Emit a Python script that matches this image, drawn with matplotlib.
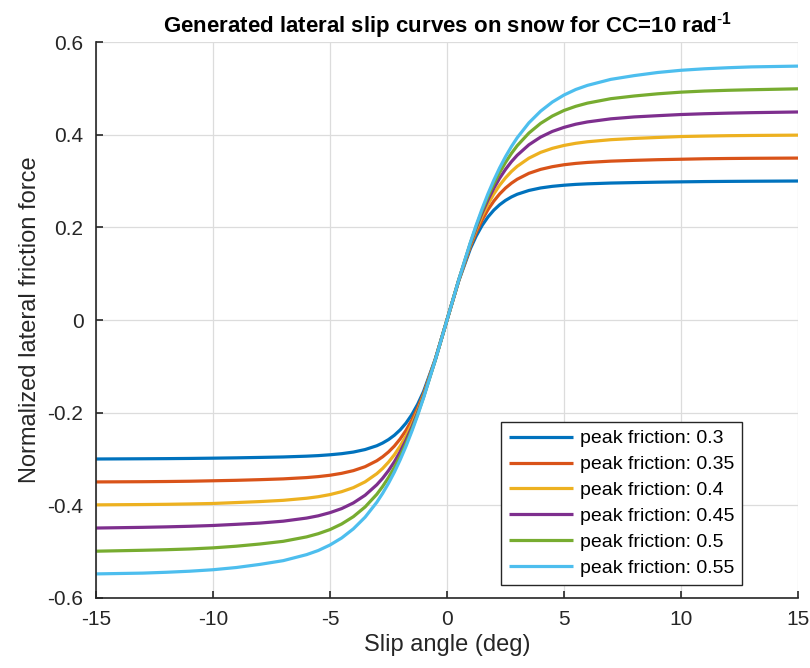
import numpy as np
import matplotlib
matplotlib.use('Agg')
import matplotlib.pyplot as plt

plt.rcParams.update({
    'font.family': ['Liberation Sans', 'DejaVu Sans'],
    'mathtext.fontset': 'custom',
    'mathtext.rm': 'Liberation Sans',
    'mathtext.bf': 'Liberation Sans:bold',
    'axes.unicode_minus': False,
})

# slip angle samples (deg)
slip_deg = [-15, -13, -12, -11, -10, -9, -8, -7, -6, -5.5, -5, -4.5, -4, -3.5, -3, -2.75,
            -2.5, -2.25, -2, -1.75, -1.5, -1.25, -1, -0.5, 0,
            0.5, 1, 1.25, 1.5, 1.75, 2, 2.25, 2.5, 2.75, 3, 3.5, 4, 4.5, 5, 5.5,
            6, 7, 8, 9, 10, 11, 12, 13, 15]

# normalized lateral friction force, one list per peak friction value
f_030 = [-0.300, -0.2995, -0.2992, -0.2988, -0.2982, -0.2975, -0.2966, -0.2956, -0.2939, -0.2927,
         -0.2909, -0.2885, -0.285, -0.2796, -0.2714, -0.2655, -0.2581, -0.2488, -0.2371, -0.2224,
         -0.2041, -0.1815, -0.1541, -0.0843, 0.0,
         0.0843, 0.1541, 0.1815, 0.2041, 0.2224, 0.2371, 0.2488, 0.2581, 0.2655, 0.2714,
         0.2796, 0.285, 0.2885, 0.2909, 0.2927, 0.2939, 0.2956, 0.2966, 0.2975, 0.2982,
         0.2988, 0.2992, 0.2995, 0.300]
f_035 = [-0.3495, -0.349, -0.3486, -0.348, -0.347, -0.346, -0.3446, -0.3429, -0.3401, -0.338,
         -0.3351, -0.3309, -0.3251, -0.3166, -0.3038, -0.2952, -0.2848, -0.2721, -0.2566, -0.2381,
         -0.2158, -0.1894, -0.1588, -0.0851, 0.0,
         0.0851, 0.1588, 0.1894, 0.2158, 0.2381, 0.2566, 0.2721, 0.2848, 0.2952, 0.3038,
         0.3166, 0.3251, 0.3309, 0.3351, 0.338, 0.3401, 0.3429, 0.3446, 0.346, 0.347,
         0.348, 0.3486, 0.349, 0.3495]
f_040 = [-0.399, -0.3983, -0.3978, -0.397, -0.396, -0.394, -0.3919, -0.3892, -0.3847, -0.3814,
         -0.3768, -0.3705, -0.3618, -0.3493, -0.3317, -0.3204, -0.3068, -0.2909, -0.2721, -0.25,
         -0.2245, -0.1952, -0.1621, -0.0856, 0.0,
         0.0856, 0.1621, 0.1952, 0.2245, 0.25, 0.2721, 0.2909, 0.3068, 0.3204, 0.3317,
         0.3493, 0.3618, 0.3705, 0.3768, 0.3814, 0.3847, 0.3892, 0.3919, 0.394, 0.396,
         0.397, 0.3978, 0.3983, 0.399]
f_045 = [-0.449, -0.4475, -0.4465, -0.4452, -0.4435, -0.441, -0.4383, -0.4342, -0.4275, -0.4226,
         -0.4158, -0.407, -0.3948, -0.3782, -0.3556, -0.3415, -0.3251, -0.3061, -0.2842, -0.2593,
         -0.2311, -0.1994, -0.1645, -0.0859, 0.0,
         0.0859, 0.1645, 0.1994, 0.2311, 0.2593, 0.2842, 0.3061, 0.3251, 0.3415, 0.3556,
         0.3782, 0.3948, 0.407, 0.4158, 0.4226, 0.4275, 0.4342, 0.4383, 0.441, 0.4435,
         0.4452, 0.4465, 0.4475, 0.449]
f_050 = [-0.499, -0.497, -0.4958, -0.4942, -0.4918, -0.4882, -0.4835, -0.4777, -0.4681, -0.4612,
         -0.4523, -0.4402, -0.4244, -0.4035, -0.3762, -0.3593, -0.3401, -0.3184, -0.294, -0.2665,
         -0.2361, -0.2026, -0.1663, -0.0862, 0.0,
         0.0862, 0.1663, 0.2026, 0.2361, 0.2665, 0.294, 0.3184, 0.3401, 0.3593, 0.3762,
         0.4035, 0.4244, 0.4402, 0.4523, 0.4612, 0.4681, 0.4777, 0.4835, 0.4882, 0.4918,
         0.4942, 0.4958, 0.497, 0.499]
f_055 = [-0.548, -0.5463, -0.5445, -0.5422, -0.539, -0.5342, -0.5275, -0.5194, -0.5064, -0.4975,
         -0.4856, -0.4704, -0.4507, -0.4256, -0.3934, -0.3741, -0.3525, -0.3285, -0.3017, -0.2723,
         -0.24, -0.2051, -0.1676, -0.0864, 0.0,
         0.0864, 0.1676, 0.2051, 0.24, 0.2723, 0.3017, 0.3285, 0.3525, 0.3741, 0.3934,
         0.4256, 0.4507, 0.4704, 0.4856, 0.4975, 0.5064, 0.5194, 0.5275, 0.5342, 0.539,
         0.5422, 0.5445, 0.5463, 0.548]

labels = ['peak friction: 0.3', 'peak friction: 0.35', 'peak friction: 0.4',
          'peak friction: 0.45', 'peak friction: 0.5', 'peak friction: 0.55']
colors = ['#0072BD', '#D95319', '#EDB120', '#7E2F8E', '#77AC30', '#4DBEEE']

xticks = [-15, -10, -5, 0, 5, 10, 15]
xtick_labels = ['-15', '-10', '-5', '0', '5', '10', '15']
yticks = [-0.6, -0.4, -0.2, 0, 0.2, 0.4, 0.6]
ytick_labels = ['-0.6', '-0.4', '-0.2', '0', '0.2', '0.4', '0.6']

fig = plt.figure(figsize=(8.1, 6.68), dpi=100)
ax = fig.add_axes([0.1185, 0.1048, 0.8667, 0.8323])

for ys, c, lab in zip([f_030, f_035, f_040, f_045, f_050, f_055], colors, labels):
    ax.plot(slip_deg, ys, color=c, linewidth=2.3, label=lab,
            solid_joinstyle='round', solid_capstyle='butt')

ax.set_xlim(-15, 15)
ax.set_ylim(-0.6, 0.6)
ax.set_xticks(xticks)
ax.set_xticklabels(xtick_labels)
ax.set_yticks(yticks)
ax.set_yticklabels(ytick_labels)
ax.tick_params(direction='in', length=5, width=1.2, labelsize=15, colors='#262626')
ax.tick_params(axis='y', pad=9)
ax.tick_params(axis='x', pad=9)
ax.grid(True, color='#dcdcdc', linewidth=0.9)
ax.set_axisbelow(True)
for s in ['top', 'right']:
    ax.spines[s].set_visible(False)
for s in ['left', 'bottom']:
    ax.spines[s].set_linewidth(1.2)
    ax.spines[s].set_color('#262626')

ax.set_xlabel('Slip angle (deg)', fontsize=17, color='#262626', labelpad=3)
ax.set_ylabel('Normalized lateral friction force', fontsize=17, color='#262626', labelpad=5)
ax.set_title(r'Generated lateral slip curves on snow for CC=10 rad$^{\mathbf{\text{-}1}}$',
             fontsize=16, fontweight='bold', pad=7)

leg = ax.legend(loc='lower right', bbox_to_anchor=(0.920, 0.0234), borderaxespad=0,
                fontsize=14, handlelength=3.3, labelspacing=0.43, borderpad=0.4,
                handletextpad=0.35, fancybox=False, framealpha=1)
leg.get_frame().set_edgecolor('#262626')
leg.get_frame().set_linewidth(1.0)

fig.savefig('out.png', dpi=100)
